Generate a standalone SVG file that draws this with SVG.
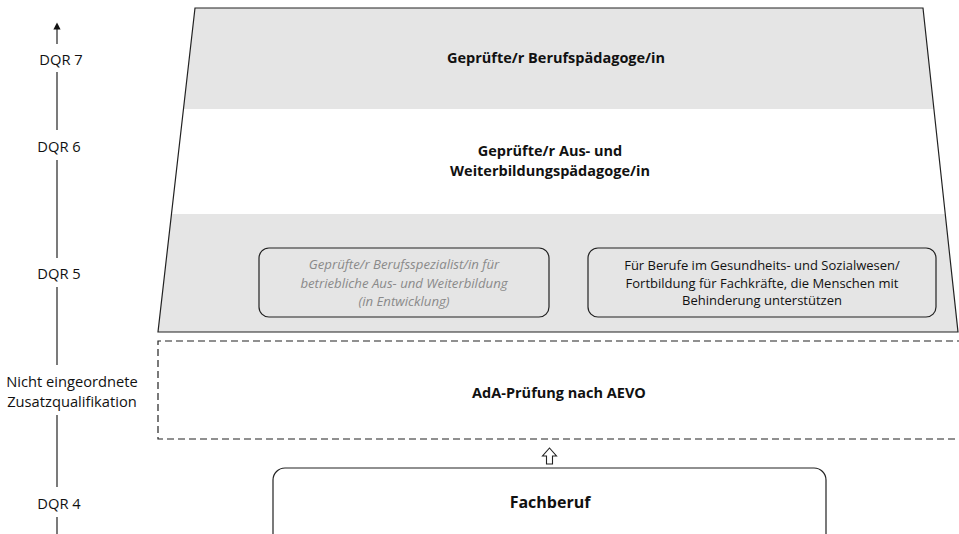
<svg xmlns="http://www.w3.org/2000/svg" width="959" height="534" viewBox="0 0 959 534">
<style>
text{font-family:"Open Sans","Liberation Sans",sans-serif;fill:#111;text-anchor:middle;dominant-baseline:central}
.lbl{font-size:14.7px}
.b{font-weight:bold;font-size:14.5px}
.s{font-size:13px}
.g{font-style:italic;fill:#8a8a8a;font-size:13.2px}
.ax{stroke:#222;stroke-width:1.2;fill:none}
.box{fill:none;stroke:#222;stroke-width:1.2}
</style>
<defs>
<marker id="ah" markerWidth="6" markerHeight="6" refX="3" refY="3" orient="auto"><path d="M0,0 L6,3 L0,6 Z" fill="#111"/></marker>
<clipPath id="trap"><polygon points="195,8 923,8 958,332 158,332"/></clipPath>
</defs>
<g id="axis">
<line class="ax" x1="57" y1="44" x2="57" y2="26" marker-end="url(#ah)"/>
<text class="lbl" x="61" y="59">DQR 7</text>
<line class="ax" x1="57" y1="72" x2="57" y2="130"/>
<text class="lbl" x="59" y="146">DQR 6</text>
<line class="ax" x1="57" y1="160" x2="57" y2="258"/>
<text class="lbl" x="59" y="273">DQR 5</text>
<line class="ax" x1="57" y1="287" x2="57" y2="365"/>
<text class="lbl" x="72" y="381">Nicht eingeordnete</text>
<text class="lbl" x="72" y="401">Zusatzqualifikation</text>
<line class="ax" x1="57" y1="415" x2="57" y2="487"/>
<text class="lbl" x="59" y="503">DQR 4</text>
<line class="ax" x1="57" y1="517" x2="57" y2="534"/>
</g>
<g id="pyramid">
<g clip-path="url(#trap)">
<rect x="150" y="8" width="809" height="101" fill="#e5e5e5"/>
<rect x="150" y="109" width="809" height="105" fill="#ffffff"/>
<rect x="150" y="214" width="809" height="118" fill="#e5e5e5"/>
</g>
<polygon points="195,8 923,8 958,332 158,332" fill="none" stroke="#222" stroke-width="1.2"/>
</g>
<g id="dqr7"><text class="b" x="556" y="57">Geprüfte/r Berufspädagoge/in</text></g>
<g id="dqr6">
<text class="b" x="550" y="150">Geprüfte/r Aus- und</text>
<text class="b" x="550" y="170">Weiterbildungspädagoge/in</text>
</g>
<g id="spezialist">
<rect class="box" x="259" y="248" width="290" height="69" rx="10"/>
<text class="g" x="404" y="264">Geprüfte/r Berufsspezialist/in für</text>
<text class="g" x="404" y="282.5">betriebliche Aus- und Weiterbildung</text>
<text class="g" x="404" y="301">(in Entwicklung)</text>
</g>
<g id="gesundheit">
<rect class="box" x="588" y="248" width="348" height="69" rx="10"/>
<text class="s" x="762" y="265">Für Berufe im Gesundheits- und Sozialwesen/</text>
<text class="s" x="762" y="283">Fortbildung für Fachkräfte, die Menschen mit</text>
<text class="s" x="762" y="300">Behinderung unterstützen</text>
</g>
<g id="ada">
<polyline points="964,341 158,341 158,439 964,439" fill="none" stroke="#222" stroke-width="1.2" stroke-dasharray="7,4"/>
<text class="b" x="559" y="392">AdA-Prüfung nach AEVO</text>
</g>
<g id="connectors">
<path d="M549.5,448 L556.5,456 L552.5,456 L552.5,464 L546.5,464 L546.5,456 L542.5,456 Z" fill="#fff" stroke="#222" stroke-width="1.1"/>
</g>
<g id="fachberuf">
<rect class="box" x="273" y="468" width="553" height="80" rx="12"/>
<text x="550" y="502" style="font-weight:bold;font-size:16px">Fachberuf</text>
</g>
</svg>
